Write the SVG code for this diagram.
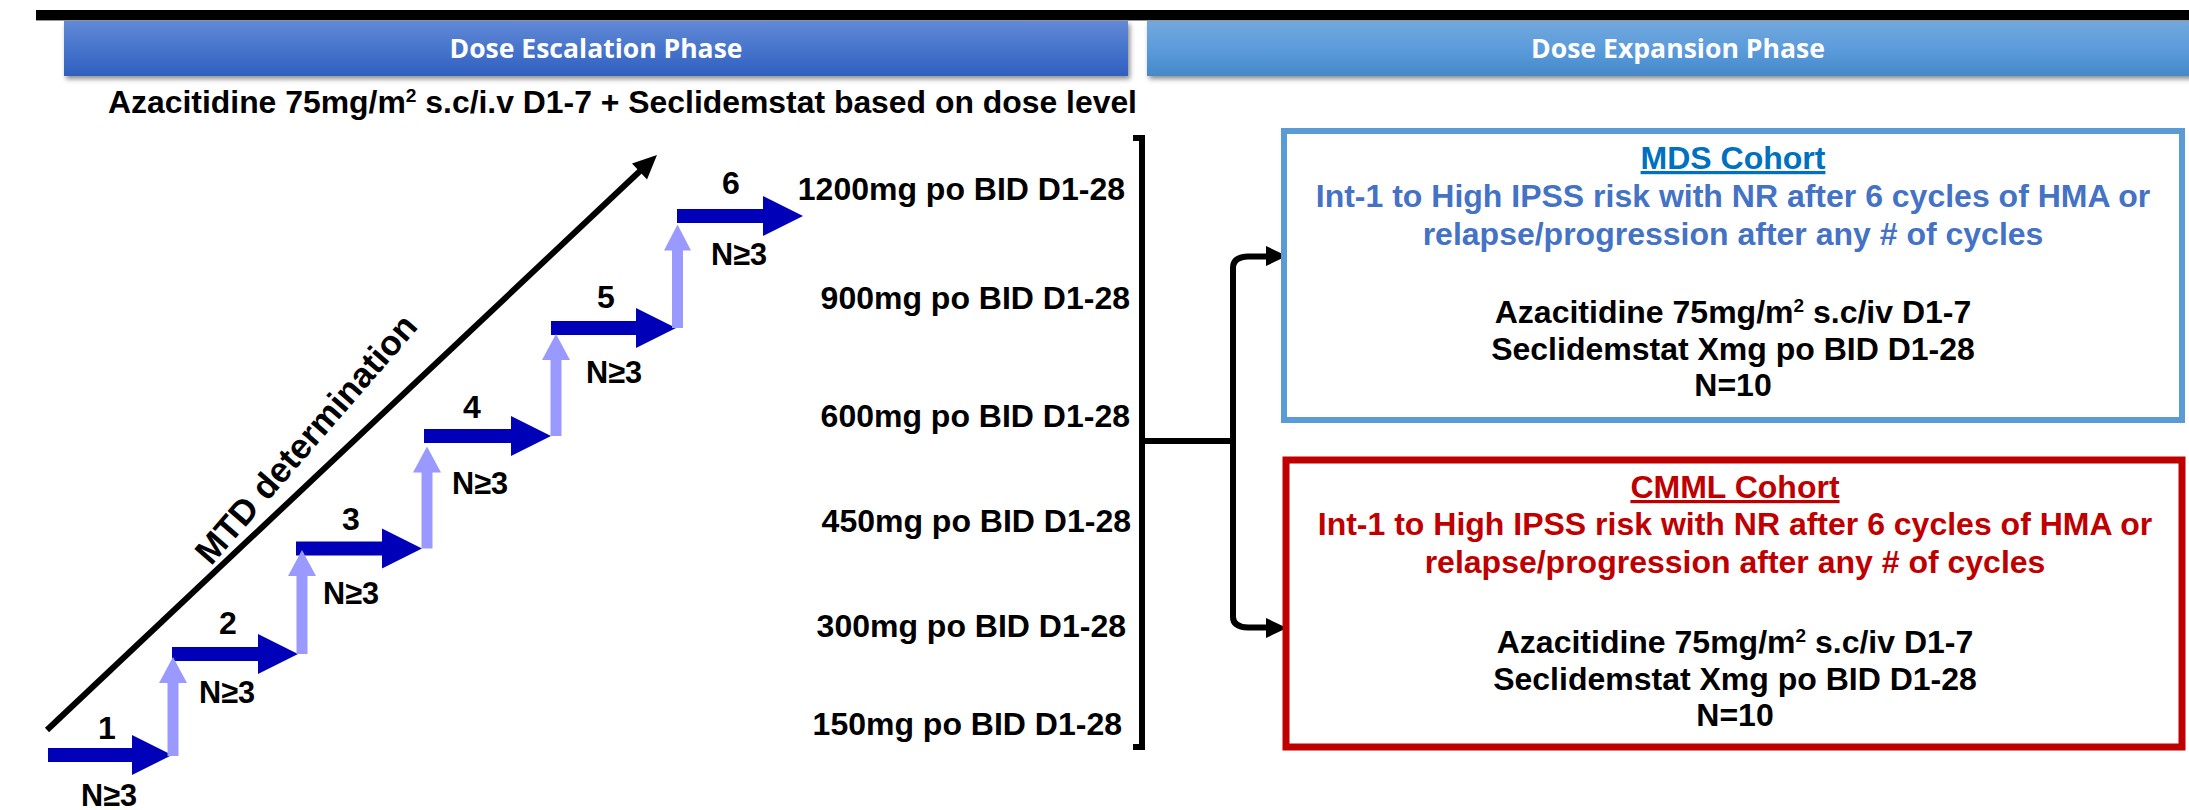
<svg xmlns="http://www.w3.org/2000/svg" width="2189" height="810" viewBox="0 0 2189 810">
<style>
.t{font-family:"Liberation Sans",Arial,sans-serif;font-weight:bold;fill:#000}
.hdr{font-family:"Open Sans","Liberation Sans",sans-serif;font-weight:bold;font-size:27px;fill:#fff;text-anchor:middle}
.step{fill:#0000B8}
.up{fill:#9999FF}
.lbl{font-size:32px;text-anchor:middle}
.dose{font-size:32px;text-anchor:end}
.bx{font-size:32px;text-anchor:middle}
.conn{fill:none;stroke:#000;stroke-width:6}
.mds{fill:#4472C4}
.cm{fill:#C00000}
</style>
<defs>
<linearGradient id="gL" x1="0" y1="0" x2="0" y2="1">
<stop offset="0" stop-color="#6189D6"/><stop offset="0.5" stop-color="#4775CC"/><stop offset="1" stop-color="#305FBE"/>
</linearGradient>
<linearGradient id="gR" x1="0" y1="0" x2="0" y2="1">
<stop offset="0" stop-color="#72A8DC"/><stop offset="0.5" stop-color="#5B9CDC"/><stop offset="1" stop-color="#4688C8"/>
</linearGradient>
<filter id="sh" x="-5%" y="-30%" width="110%" height="170%">
<feDropShadow dx="2" dy="3" stdDeviation="2.5" flood-color="#000" flood-opacity="0.45"/>
</filter>
</defs>
<rect width="2189" height="810" fill="#fff"/>
<rect x="36" y="10" width="2153" height="10" fill="#000"/>
<line x1="36" y1="20.5" x2="2189" y2="20.5" stroke="#999" stroke-width="1"/>

<g id="header-escalation">
<rect x="64" y="21" width="1064" height="55" fill="url(#gL)" filter="url(#sh)"/>
<text class="hdr" x="596" y="58" textLength="293" lengthAdjust="spacingAndGlyphs">Dose Escalation Phase</text>
</g>
<g id="header-expansion">
<rect x="1147" y="21" width="1063" height="55" fill="url(#gR)" filter="url(#sh)"/>
<text class="hdr" x="1678" y="58" textLength="294" lengthAdjust="spacingAndGlyphs">Dose Expansion Phase</text>
</g>

<g id="regimen">
<text class="t" x="108" y="113" font-size="31.5" textLength="1029" lengthAdjust="spacingAndGlyphs">Azacitidine 75mg/m<tspan dy="-11" font-size="19">2</tspan><tspan dy="11"> s.c/i.v D1-7 + Seclidemstat based on dose level</tspan></text>
</g>

<g id="mtd">
<line x1="47" y1="730" x2="640" y2="171" stroke="#000" stroke-width="6"/>
<polygon points="657,155 647,179.5 632,163.5" fill="#000"/>
<text class="t" font-size="35" text-anchor="middle" transform="translate(315,447) rotate(-49)">MTD determination</text>
</g>

<g id="step-1">
<polygon class="step" points="48,748 132,748 132,735 172,755 132,775 132,762 48,762"/>
<text class="t lbl" x="107" y="739">1</text>
<text class="t lbl" x="109" y="806" textLength="56" lengthAdjust="spacingAndGlyphs">N≥3</text>
</g>
<g id="step-2">
<polygon class="step" points="172,647 258,647 258,634 298,654 258,674 258,661 172,661"/>
<text class="t lbl" x="228" y="634">2</text>
<text class="t lbl" x="227" y="703" textLength="56" lengthAdjust="spacingAndGlyphs">N≥3</text>
</g>
<g id="step-3">
<polygon class="step" points="296,541.5 382,541.5 382,528.5 422,548.5 382,568.5 382,555.5 296,555.5"/>
<text class="t lbl" x="351" y="530">3</text>
<text class="t lbl" x="351" y="604" textLength="56" lengthAdjust="spacingAndGlyphs">N≥3</text>
</g>
<g id="step-4">
<polygon class="step" points="424,429 511,429 511,416 551,436 511,456 511,443 424,443"/>
<text class="t lbl" x="472" y="418">4</text>
<text class="t lbl" x="480" y="494" textLength="56" lengthAdjust="spacingAndGlyphs">N≥3</text>
</g>
<g id="step-5">
<polygon class="step" points="551,321 636,321 636,308 676,328 636,348 636,335 551,335"/>
<text class="t lbl" x="606" y="308">5</text>
<text class="t lbl" x="614" y="383" textLength="56" lengthAdjust="spacingAndGlyphs">N≥3</text>
</g>
<g id="step-6">
<polygon class="step" points="677,209 763,209 763,196 803,216 763,236 763,223 677,223"/>
<text class="t lbl" x="731" y="194">6</text>
<text class="t lbl" x="739" y="265" textLength="56" lengthAdjust="spacingAndGlyphs">N≥3</text>
</g>

<g id="escalation-steps">
<polygon class="up" points="167.5,756 167.5,683 159,683 173,657 187,683 178.5,683 178.5,756"/>
<polygon class="up" points="296.5,654 296.5,576 288,576 302,550 316,576 307.5,576 307.5,654"/>
<polygon class="up" points="421.5,548.5 421.5,472.5 413,472.5 427,446.5 441,472.5 432.5,472.5 432.5,548.5"/>
<polygon class="up" points="550.5,436 550.5,360 542,360 556,334 570,360 561.5,360 561.5,436"/>
<polygon class="up" points="672,328 672,250.5 664,250.5 677.5,224.5 691,250.5 683,250.5 683,328"/>
</g>

<g id="dose-levels">
<text class="t dose" x="1125" y="200">1200mg po BID D1-28</text>
<text class="t dose" x="1130" y="309">900mg po BID D1-28</text>
<text class="t dose" x="1130" y="427">600mg po BID D1-28</text>
<text class="t dose" x="1131" y="532">450mg po BID D1-28</text>
<text class="t dose" x="1126" y="637">300mg po BID D1-28</text>
<text class="t dose" x="1122" y="735">150mg po BID D1-28</text>
</g>

<g id="connectors">
<path class="conn" d="M1133,138 H1142 V747 H1133"/>
<path class="conn" d="M1142,441 H1233" stroke-width="5"/>
<path class="conn" d="M1233,441 V268 Q1233,257 1248,256.5 H1268"/>
<polygon points="1287,256 1266,246 1266,266" fill="#000"/>
<path class="conn" d="M1233,441 V617 Q1233,627 1248,627.5 H1268"/>
<polygon points="1287,628 1266,618 1266,638" fill="#000"/>
</g>

<g id="mds-cohort">
<rect x="1284" y="131" width="898" height="289" fill="#fff" stroke="#5B9BD5" stroke-width="6"/>
<text class="t bx" x="1733" y="169" style="fill:#0070C0" text-decoration="underline">MDS Cohort</text>
<text class="t bx mds" x="1733" y="207">Int-1 to High IPSS risk with NR after 6 cycles of HMA or</text>
<text class="t bx mds" x="1733" y="245">relapse/progression after any # of cycles</text>
<text class="t bx" x="1733" y="323">Azacitidine 75mg/m<tspan dy="-11" font-size="19">2</tspan><tspan dy="11"> s.c/iv D1-7</tspan></text>
<text class="t bx" x="1733" y="360">Seclidemstat Xmg po BID D1-28</text>
<text class="t bx" x="1733" y="396">N=10</text>
</g>

<g id="cmml-cohort">
<rect x="1286" y="460" width="896" height="287" fill="#fff" stroke="#C00000" stroke-width="7"/>
<text class="t bx cm" x="1735" y="498" text-decoration="underline">CMML Cohort</text>
<text class="t bx cm" x="1735" y="535">Int-1 to High IPSS risk with NR after 6 cycles of HMA or</text>
<text class="t bx cm" x="1735" y="573">relapse/progression after any # of cycles</text>
<text class="t bx" x="1735" y="653">Azacitidine 75mg/m<tspan dy="-11" font-size="19">2</tspan><tspan dy="11"> s.c/iv D1-7</tspan></text>
<text class="t bx" x="1735" y="690">Seclidemstat Xmg po BID D1-28</text>
<text class="t bx" x="1735" y="726">N=10</text>
</g>
</svg>
